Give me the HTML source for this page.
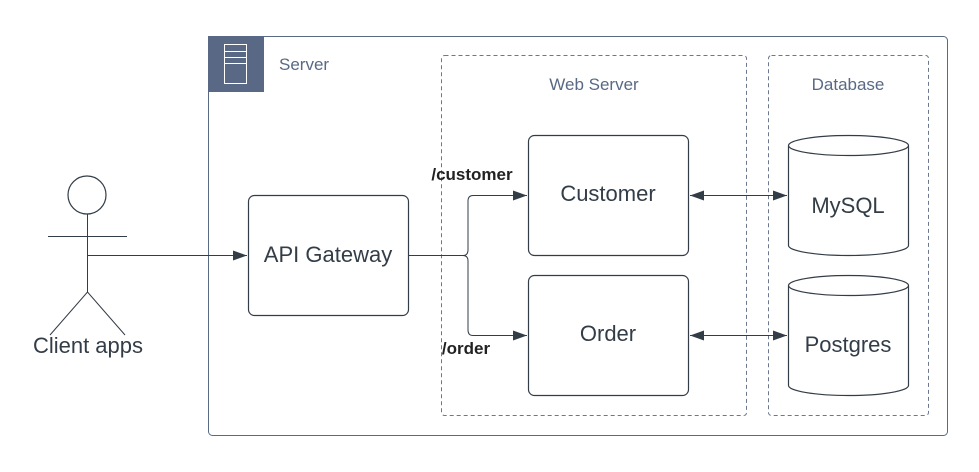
<!DOCTYPE html>
<html><head><style>body{margin:0;background:#fff}</style></head><body>
<svg width="979" height="467" xmlns="http://www.w3.org/2000/svg" font-family="Liberation Sans, sans-serif">
<defs><marker id="a" markerWidth="14" markerHeight="10" refX="14" refY="5" orient="auto-start-reverse" markerUnits="userSpaceOnUse"><path d="M0,0L14,5L0,10z" fill="#333d47"/></marker></defs>
<rect x="208.5" y="36.5" width="739" height="399" rx="4" fill="#fff" stroke="#5a6a85"/>
<rect x="208" y="36" width="56" height="56" fill="#596985"/>
<rect x="224.5" y="44.5" width="22" height="39" fill="none" stroke="#fff"/>
<line x1="225" y1="51.5" x2="246" y2="51.5" stroke="#fff"/><line x1="225" y1="57.5" x2="246" y2="57.5" stroke="#fff"/><line x1="225" y1="63.5" x2="246" y2="63.5" stroke="#fff"/>
<text x="279" y="70" font-size="17" fill="#596985">Server</text>
<rect x="441.5" y="55.5" width="305" height="360" rx="3" fill="none" stroke="#6a7890" stroke-dasharray="4,3"/>
<text x="594" y="90" font-size="17" fill="#596985" text-anchor="middle">Web Server</text>
<rect x="768.5" y="55.5" width="160" height="360" rx="3" fill="none" stroke="#6a7890" stroke-dasharray="4,3"/>
<text x="848" y="90" font-size="17" fill="#596985" text-anchor="middle">Database</text>
<g fill="#fff" stroke="#333d47" stroke-width="1.2">
<rect x="248.5" y="195.5" width="160" height="120" rx="6"/>
<rect x="528.5" y="135.5" width="160" height="120" rx="6"/>
<rect x="528.5" y="275.5" width="160" height="120" rx="6"/>
<path d="M788.5,145.5 v100 a60,10 0 0 0 120,0 v-100 a60,10 0 0 0 -120,0 a60,10 0 0 0 120,0"/>
<path d="M788.5,285.5 v100 a60,10 0 0 0 120,0 v-100 a60,10 0 0 0 -120,0 a60,10 0 0 0 120,0"/>
<circle cx="87" cy="195" r="19"/>
</g>
<g fill="none" stroke="#333d47" stroke-width="1">
<line x1="48" y1="236.5" x2="127" y2="236.5"/>
<line x1="87.5" y1="214" x2="87.5" y2="292"/>
<path d="M50,335 L87.5,292 L125,335"/>
<line x1="87" y1="255.5" x2="247" y2="255.5" marker-end="url(#a)"/>
<path d="M409,255.5 H463 Q468,255.5 468,250 V201 Q468,195.5 473,195.5 H527" marker-end="url(#a)"/>
<path d="M463,255.5 Q468,255.5 468,261 V330 Q468,335.5 473,335.5 H527" marker-end="url(#a)"/>
<line x1="690" y1="195.5" x2="787" y2="195.5" marker-start="url(#a)" marker-end="url(#a)"/>
<line x1="690" y1="335.5" x2="787" y2="335.5" marker-start="url(#a)" marker-end="url(#a)"/>
</g>
<g fill="#333d47" font-size="22" text-anchor="middle">
<text x="88" y="353">Client apps</text>
<text x="328" y="262">API Gateway</text>
<text x="608" y="201">Customer</text>
<text x="608" y="341">Order</text>
<text x="848" y="213">MySQL</text>
<text x="848" y="352">Postgres</text>
</g>
<text x="472" y="180" font-size="17" font-weight="bold" fill="#222" text-anchor="middle">/customer</text>
<text x="466" y="354" font-size="17" font-weight="bold" fill="#222" text-anchor="middle">/order</text>
</svg>
</body></html>
